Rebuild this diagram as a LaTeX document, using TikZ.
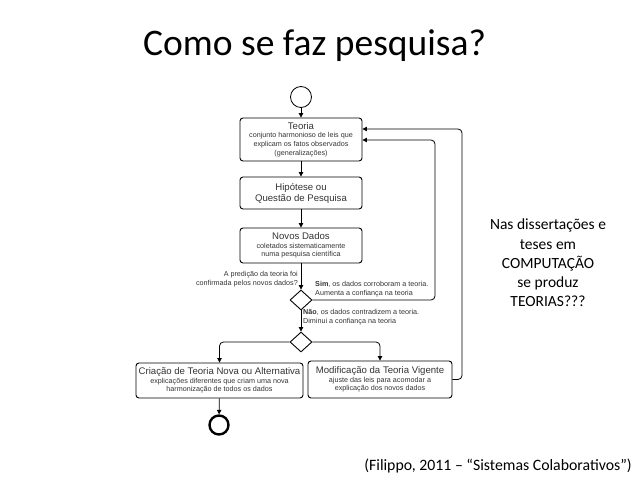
\documentclass[tikz,border=0pt]{standalone}
\usepackage{fontspec}
\setmainfont{Carlito}
\newfontfamily\diagfont{Liberation Sans}
\usetikzlibrary{arrows.meta, shapes.geometric}

\newcommand{\boxhead}[1]{{\fontsize{9.6}{11}\selectfont #1}}

\begin{document}
\begin{tikzpicture}[x=1pt, y=-1pt, inner sep=0pt]
	\tikzstyle{every node}=[align=center]
	\tikzstyle{box}=[draw, line width=0.9pt, rounded corners=3pt, text=black!80, font=\diagfont\fontsize{7.2}{8.6}\selectfont]
	\tikzstyle{choice}=[draw, line width=0.9pt, diamond, minimum width=22pt, minimum height=20pt]
	\tikzstyle{note}=[text=black!80, font=\diagfont\fontsize{7.2}{8.6}\selectfont]
	\tikzstyle{arr}=[line width=0.8pt, -{Triangle[length=4.5pt, width=4.5pt]}]
	\useasboundingbox (0, 0) rectangle (638, 479);

	% title and side texts
	\node[anchor=base west, font=\fontsize{37.5}{44}\selectfont] (title) at (143, 55) {Como se faz pesquisa?};
	\node[font=\fontsize{15.5}{19.2}\selectfont] (side) at (548, 263) {Nas dissertações e\\ teses em\\ COMPUTAÇÃO\\ se produz\\ TEORIAS???};
	\node[anchor=base east, font=\fontsize{15.8}{18}\selectfont] (source) at (632, 470) {(Filippo, 2011 -- “Sistemas Colaborativos”)};

	% activity diagram
	\node[draw, circle, line width=0.8pt, minimum size=21pt] (start) at (301, 97) {};
	\node[box, minimum width=122pt, minimum height=43pt] (teoria) at (301, 139.5) {\boxhead{Teoria}\\ conjunto harmonioso de leis que\\ explicam os fatos observados\\ (generalizações)};
	\node[box, minimum width=122pt, minimum height=32pt] (hipotese) at (301, 193) {\boxhead{Hipótese ou}\\[1pt] \boxhead{Questão de Pesquisa}};
	\node[box, minimum width=122pt, minimum height=35pt] (dados) at (301, 245.5) {\boxhead{Novos Dados}\\ coletados sistematicamente\\ numa pesquisa científica};
	\node[choice] (teste) at (301, 300) {};
	\node[choice] (rumo) at (301, 342) {};
	\node[box, minimum width=167pt, minimum height=35pt] (criacao) at (219.5, 380.5) {\boxhead{Criação de Teoria Nova ou Alternativa}\\ explicações diferentes que criam uma nova\\ harmonização de todos os dados};
	\node[box, minimum width=144pt, minimum height=37pt] (modif) at (380, 379.5) {\boxhead{Modificação da Teoria Vigente}\\ ajuste das leis para acomodar a\\ explicação dos novos dados};
	\node[draw, circle, line width=2.4pt, minimum size=19pt] (fim) at (219, 425) {};
	\coordinate (volta1) at (435, 140);
	\coordinate (volta2) at (462, 129);

	\node[note, anchor=east, align=right] (pergunta) at (298, 279) {A predição da teoria foi\\ confirmada pelos novos dados?};
	\node[note, anchor=west, align=left] (sim) at (315, 289) {\textbf{Sim}, os dados corroboram a teoria.\\ Aumenta a confiança na teoria};
	\node[note, anchor=north west, align=left] (nao) at (303, 309) {\textbf{Não}, os dados contradizem a teoria.\\ Diminui a confiança na teoria};

	\draw[arr] (start) -- (teoria);
	\draw[arr] (teoria) -- (hipotese);
	\draw[arr] (hipotese) -- (dados);
	\draw[arr] (dados) -- (teste);
	\draw[arr] (teste) -- (rumo);
	\draw[arr, rounded corners=4pt] (rumo.west) -| (criacao);
	\draw[arr, rounded corners=4pt] (rumo.east) -| (modif);
	\draw[arr] (criacao) -- (fim);
	\draw[arr, rounded corners=4pt] (teste.east) -| (volta1) -- (teoria.east |- volta1);
	\draw[arr, rounded corners=4pt] (modif.east) -| (volta2) -- (teoria.east |- volta2);
\end{tikzpicture}
\end{document}
